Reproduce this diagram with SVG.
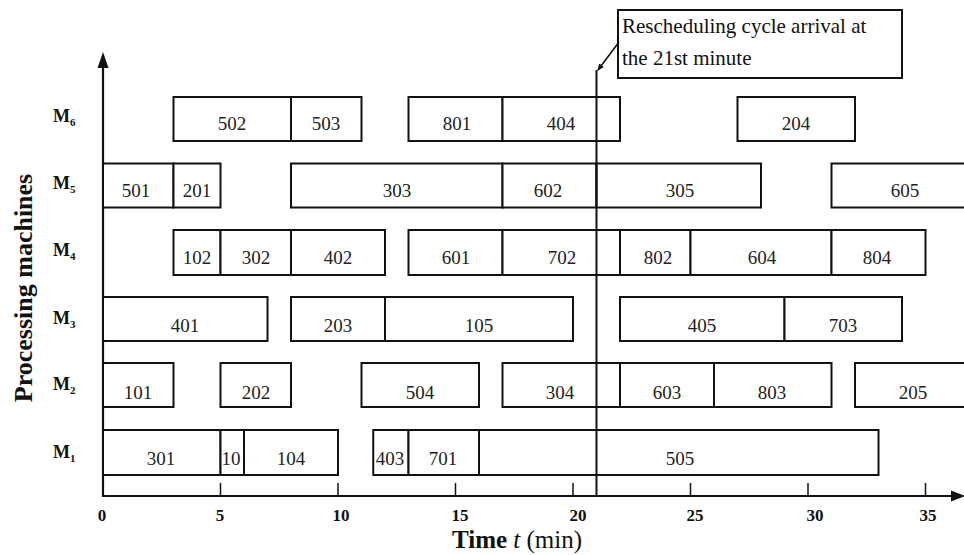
<svg xmlns="http://www.w3.org/2000/svg" width="964" height="555" viewBox="0 0 964 555">
<defs>
<style>
.bar{fill:#fff;stroke:#111;stroke-width:2}
.lbl{font-family:"Liberation Serif","Times New Roman",serif;font-size:19px;fill:#222;text-anchor:middle}
.m{font-family:"Liberation Serif","Times New Roman",serif;font-size:18px;font-weight:bold;fill:#111}
.ms{font-size:11px}
.tk{font-family:"Liberation Serif","Times New Roman",serif;font-size:17px;font-weight:bold;fill:#111;text-anchor:middle}
.ax{stroke:#111;stroke-width:2.2;fill:none}
.tick{stroke:#111;stroke-width:1.5}
.note{font-family:"Liberation Serif","Times New Roman",serif;font-size:21px;fill:#111}
</style>
<marker id="ah" markerWidth="8" markerHeight="8" refX="6" refY="4" orient="auto" markerUnits="userSpaceOnUse">
<path d="M0,1 L7,4 L0,7 Z" fill="#111"/>
</marker>
</defs>
<rect width="964" height="555" fill="#fff"/>

<g id="axes">
<line class="ax" x1="103" y1="497" x2="103" y2="64"/>
<polygon points="103,52 97.5,68 108.5,68" fill="#111"/>
<line class="ax" x1="102" y1="496" x2="954" y2="496"/>
<polygon points="965,496 951,490.5 951,501.5" fill="#111"/>
<g class="tick">
<line x1="220.5" y1="483" x2="220.5" y2="496"/>
<line x1="338" y1="483" x2="338" y2="496"/>
<line x1="455.5" y1="483" x2="455.5" y2="496"/>
<line x1="573" y1="483" x2="573" y2="496"/>
<line x1="690.5" y1="483" x2="690.5" y2="496"/>
<line x1="808" y1="483" x2="808" y2="496"/>
<line x1="925.5" y1="483" x2="925.5" y2="496"/>
</g>
<g class="tk">
<text x="102" y="521">0</text>
<text x="220" y="521">5</text>
<text x="341" y="521">10</text>
<text x="460" y="521">15</text>
<text x="578" y="521">20</text>
<text x="695" y="521">25</text>
<text x="815" y="521">30</text>
<text x="928" y="521">35</text>
</g>
<text x="452" y="548" font-family="'Liberation Serif','Times New Roman',serif" font-size="25" fill="#111"><tspan font-weight="bold">Time</tspan> <tspan font-style="italic">t</tspan> (min)</text>
<text transform="translate(32,288) rotate(-90)" text-anchor="middle" font-family="'Liberation Serif','Times New Roman',serif" font-size="26" font-weight="bold" fill="#111">Processing machines</text>
</g>

<g id="machine-labels" class="m">
<text x="53" y="122">M<tspan class="ms" dy="4">6</tspan></text>
<text x="53" y="189">M<tspan class="ms" dy="4">5</tspan></text>
<text x="53" y="256">M<tspan class="ms" dy="4">4</tspan></text>
<text x="53" y="324">M<tspan class="ms" dy="4">3</tspan></text>
<text x="53" y="390">M<tspan class="ms" dy="4">2</tspan></text>
<text x="53" y="458">M<tspan class="ms" dy="4">1</tspan></text>
</g>

<g id="row-M6">
<g id="op-502"><rect class="bar" x="173.5" y="97" width="117.5" height="44"/><text class="lbl" x="232" y="130">502</text></g>
<g id="op-503"><rect class="bar" x="291" y="97" width="70.5" height="44"/><text class="lbl" x="326" y="130">503</text></g>
<g id="op-801"><rect class="bar" x="408.5" y="97" width="94" height="44"/><text class="lbl" x="457" y="130">801</text></g>
<g id="op-404"><rect class="bar" x="502.5" y="97" width="117.5" height="44"/><text class="lbl" x="561" y="130">404</text></g>
<g id="op-204"><rect class="bar" x="737.5" y="97" width="117.5" height="44"/><text class="lbl" x="796" y="130">204</text></g>
</g>

<g id="row-M5">
<g id="op-501"><rect class="bar" x="103" y="163.5" width="70.5" height="44"/><text class="lbl" x="136" y="197">501</text></g>
<g id="op-201"><rect class="bar" x="173.5" y="163.5" width="47" height="44"/><text class="lbl" x="197" y="197">201</text></g>
<g id="op-303"><rect class="bar" x="291" y="163.5" width="211.5" height="44"/><text class="lbl" x="397" y="197">303</text></g>
<g id="op-602"><rect class="bar" x="502.5" y="163.5" width="94" height="44"/><text class="lbl" x="548" y="197">602</text></g>
<g id="op-305"><rect class="bar" x="596.5" y="163.5" width="164.5" height="44"/><text class="lbl" x="680" y="197">305</text></g>
<g id="op-605"><rect class="bar" x="831.5" y="163.5" width="145" height="44"/><text class="lbl" x="905" y="197">605</text></g>
</g>

<g id="row-M4">
<g id="op-102"><rect class="bar" x="173.5" y="230" width="47" height="45"/><text class="lbl" x="197" y="264">102</text></g>
<g id="op-302"><rect class="bar" x="220.5" y="230" width="70.5" height="45"/><text class="lbl" x="256" y="264">302</text></g>
<g id="op-402"><rect class="bar" x="291" y="230" width="94" height="45"/><text class="lbl" x="338" y="264">402</text></g>
<g id="op-601"><rect class="bar" x="408.5" y="230" width="94" height="45"/><text class="lbl" x="456" y="264">601</text></g>
<g id="op-702"><rect class="bar" x="502.5" y="230" width="117.5" height="45"/><text class="lbl" x="562" y="264">702</text></g>
<g id="op-802"><rect class="bar" x="620" y="230" width="70.5" height="45"/><text class="lbl" x="658" y="264">802</text></g>
<g id="op-604"><rect class="bar" x="690.5" y="230" width="141" height="45"/><text class="lbl" x="762" y="264">604</text></g>
<g id="op-804"><rect class="bar" x="831.5" y="230" width="94" height="45"/><text class="lbl" x="877" y="264">804</text></g>
</g>

<g id="row-M3">
<g id="op-401"><rect class="bar" x="103" y="297" width="164.5" height="44"/><text class="lbl" x="185" y="332">401</text></g>
<g id="op-203"><rect class="bar" x="291" y="297" width="94" height="44"/><text class="lbl" x="338" y="332">203</text></g>
<g id="op-105"><rect class="bar" x="385" y="297" width="188" height="44"/><text class="lbl" x="479" y="332">105</text></g>
<g id="op-405"><rect class="bar" x="620" y="297" width="164.5" height="44"/><text class="lbl" x="702" y="332">405</text></g>
<g id="op-703"><rect class="bar" x="784.5" y="297" width="117.5" height="44"/><text class="lbl" x="843" y="332">703</text></g>
</g>

<g id="row-M2">
<g id="op-101"><rect class="bar" x="103" y="363" width="70.5" height="44"/><text class="lbl" x="138" y="399">101</text></g>
<g id="op-202"><rect class="bar" x="220.5" y="363" width="70.5" height="44"/><text class="lbl" x="256" y="399">202</text></g>
<g id="op-504"><rect class="bar" x="361.5" y="363" width="117.5" height="44"/><text class="lbl" x="420" y="399">504</text></g>
<g id="op-304"><rect class="bar" x="502.5" y="363" width="117.5" height="44"/><text class="lbl" x="560" y="399">304</text></g>
<g id="op-603"><rect class="bar" x="620" y="363" width="94" height="44"/><text class="lbl" x="667" y="399">603</text></g>
<g id="op-803"><rect class="bar" x="714" y="363" width="117.5" height="44"/><text class="lbl" x="772" y="399">803</text></g>
<g id="op-205"><rect class="bar" x="855" y="363" width="120" height="44"/><text class="lbl" x="913" y="399">205</text></g>
</g>

<g id="row-M1">
<g id="op-301"><rect class="bar" x="103" y="430" width="117.5" height="45"/><text class="lbl" x="161" y="465">301</text></g>
<g id="op-10"><rect class="bar" x="220.5" y="430" width="23.5" height="45"/><text class="lbl" x="231" y="465">10</text></g>
<g id="op-104"><rect class="bar" x="244" y="430" width="94" height="45"/><text class="lbl" x="291" y="465">104</text></g>
<g id="op-403"><rect class="bar" x="373.25" y="430" width="35.25" height="45"/><text class="lbl" x="390" y="465">403</text></g>
<g id="op-701"><rect class="bar" x="408.5" y="430" width="70.5" height="45"/><text class="lbl" x="443" y="465">701</text></g>
<g id="op-505"><rect class="bar" x="479" y="430" width="399.5" height="45"/><text class="lbl" x="680" y="465">505</text></g>
</g>

<g id="callout">
<rect x="618" y="10" width="284" height="68" fill="#fff" stroke="#111" stroke-width="2"/>
<text class="note" x="622" y="33">Rescheduling cycle arrival at</text>
<text class="note" x="622" y="65">the 21st minute</text>
</g>

<g id="connectors">
<line x1="596.5" y1="497" x2="596.5" y2="70" stroke="#111" stroke-width="2"/>
<line x1="619" y1="42" x2="598" y2="70" stroke="#111" stroke-width="1.5" marker-end="url(#ah)"/>
</g>
</svg>
